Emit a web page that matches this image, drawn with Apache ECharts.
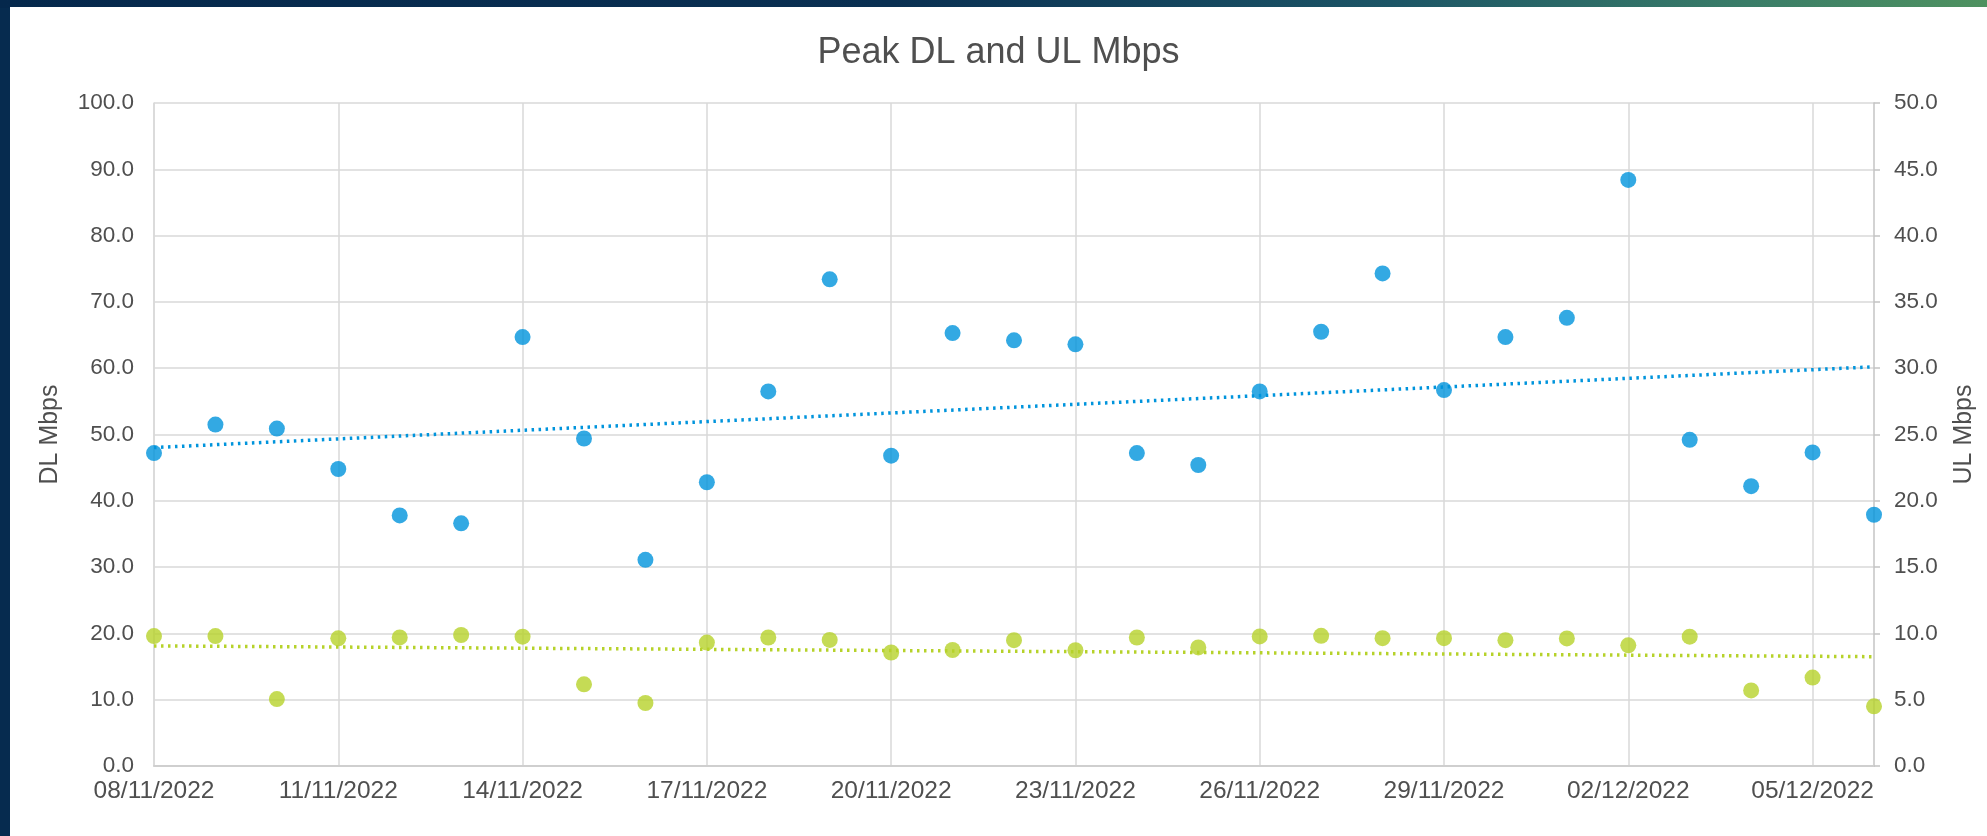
<!DOCTYPE html>
<html>
<head>
<meta charset="utf-8">
<script src="https://cdn.jsdelivr.net/npm/echarts@6/dist/echarts.min.js"></script>
<style>
  html, body { margin: 0; padding: 0; width: 1987px; height: 836px; overflow: hidden; background: #062b4f; }
  #topband { position: absolute; left: 0; top: 0; width: 1987px; height: 8px;
    background: linear-gradient(to right, #05284c 0%, #0a3052 45%, #1c5566 70%, #3a7d68 88%, #4f9260 100%); }
  #chart { position: absolute; left: 10px; top: 7px; width: 1977px; height: 829px; background: #ffffff; }
</style>
</head>
<body>
<div id="topband"></div>
<div id="chart"></div>
<script>
// ---- data ----
const dates = [
  "08/11/2022","09/11/2022","10/11/2022","11/11/2022","12/11/2022","13/11/2022","14/11/2022",
  "15/11/2022","16/11/2022","17/11/2022","18/11/2022","19/11/2022","20/11/2022","21/11/2022",
  "22/11/2022","23/11/2022","24/11/2022","25/11/2022","26/11/2022","27/11/2022","28/11/2022",
  "29/11/2022","30/11/2022","01/12/2022","02/12/2022","03/12/2022","04/12/2022","05/12/2022",
  "06/12/2022"
];
const dlMbps = [
  47.2, 51.5, 50.9, 44.8, 37.8, 36.6, 64.7,
  49.4, 31.1, 42.8, 56.5, 73.4, 46.8, 65.3,
  64.2, 63.6, 47.2, 45.4, 56.5, 65.5, 74.3,
  56.7, 64.7, 67.6, 88.4, 49.2, 42.2, 47.3,
  37.9
];
const ulMbps = [
  9.8, 9.8, 5.05, 9.63, 9.7, 9.88, 9.75,
  6.16, 4.75, 9.31, 9.69, 9.51, 8.56, 8.75,
  9.49, 8.73, 9.69, 8.94, 9.77, 9.82, 9.64,
  9.64, 9.49, 9.62, 9.1, 9.75, 5.7, 6.67,
  4.5
];
const dlTicks = [0, 100, 10];
const ulTicks = [0, 50, 5];

// linear trend (least squares) from the data
function trend(vals) {
  const n = vals.length;
  let sx = 0, sy = 0, sxx = 0, sxy = 0;
  vals.forEach((v, i) => { sx += i; sy += v; sxx += i * i; sxy += i * v; });
  const b = (n * sxy - sx * sy) / (n * sxx - sx * sx);
  const a = (sy - b * sx) / n;
  return [[dates[0], a], [dates[n - 1], a + b * (n - 1)]];
}

const BLUE = '#0094dc';
const GREEN = '#b6d22a';
const TXT = '#4f4f4f';
const GRID = '#d9d9d9';
const FONT = '"Liberation Sans", Arial, sans-serif';

const chart = echarts.init(document.getElementById('chart'), null, { renderer: 'canvas' });
chart.setOption({
  animation: false,
  backgroundColor: '#ffffff',
  textStyle: { fontFamily: FONT },
  title: {
    text: 'Peak DL and UL Mbps',
    left: 'center',
    top: 23,
    textStyle: { color: TXT, fontSize: 36, fontWeight: 'normal', fontFamily: FONT }
  },
  grid: { left: 144, right: 113, top: 96, bottom: 70, containLabel: false },
  xAxis: {
    type: 'category',
    data: dates,
    boundaryGap: false,
    axisLine: { show: true, lineStyle: { color: '#cfcfcf', width: 2 } },
    axisTick: { show: false },
    axisLabel: { interval: 2, color: TXT, fontSize: 24.5, margin: 13, fontFamily: FONT },
    splitLine: { show: true, interval: 2, lineStyle: { color: GRID, width: 1.5 } }
  },
  yAxis: [
    {
      type: 'value', min: dlTicks[0], max: dlTicks[1], interval: dlTicks[2],
      name: 'DL Mbps', nameLocation: 'middle', nameRotate: 90, nameGap: 91,
      nameTextStyle: { color: TXT, fontSize: 25, fontFamily: FONT },
      axisLine: { show: true, lineStyle: { color: GRID, width: 1.5 } },
      axisTick: { show: false },
      axisLabel: { color: TXT, fontSize: 22.5, margin: 20, formatter: v => v.toFixed(1), fontFamily: FONT },
      splitLine: { show: true, lineStyle: { color: GRID, width: 1.5 } }
    },
    {
      type: 'value', min: ulTicks[0], max: ulTicks[1], interval: ulTicks[2],
      position: 'right',
      name: 'UL Mbps', nameLocation: 'middle', nameRotate: 90, nameGap: 78,
      nameTextStyle: { color: TXT, fontSize: 25, fontFamily: FONT },
      axisLine: { show: true, lineStyle: { color: '#c4c4c4', width: 1.5 } },
      axisTick: { show: true, inside: false, length: 6, lineStyle: { color: '#c4c4c4', width: 1.5 } },
      axisLabel: { color: TXT, fontSize: 22.5, margin: 20, formatter: v => v.toFixed(1), fontFamily: FONT },
      splitLine: { show: false }
    }
  ],
  series: [
    {
      name: 'DL trend', type: 'line', yAxisIndex: 0, data: trend(dlMbps),
      symbol: 'none', silent: true, z: 2,
      lineStyle: { color: BLUE, width: 3.5, type: [2.5, 4.5] }
    },
    {
      name: 'UL trend', type: 'line', yAxisIndex: 1, data: trend(ulMbps),
      symbol: 'none', silent: true, z: 2,
      lineStyle: { color: GREEN, width: 3.5, type: [2.5, 4.5] }
    },
    {
      name: 'DL Mbps', type: 'scatter', yAxisIndex: 0, data: dlMbps,
      symbol: 'circle', symbolSize: 16, z: 3,
      itemStyle: { color: BLUE }
    },
    {
      name: 'UL Mbps', type: 'scatter', yAxisIndex: 1, data: ulMbps,
      symbol: 'circle', symbolSize: 16, z: 3,
      itemStyle: { color: GREEN }
    }
  ]
});
</script>
</body>
</html>
